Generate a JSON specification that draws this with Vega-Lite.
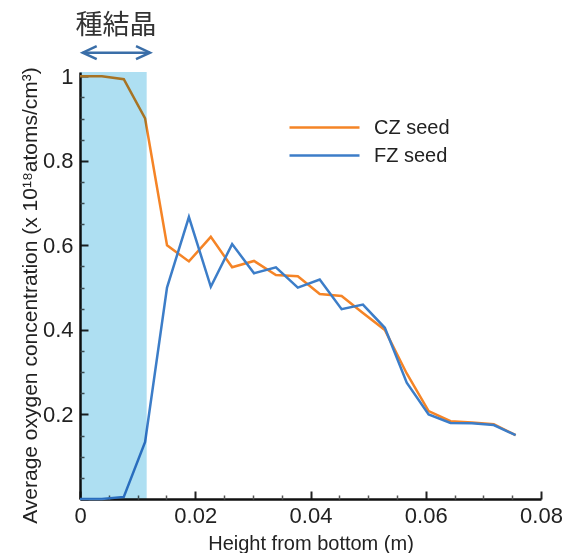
{
  "$schema": "https://vega.github.io/schema/vega-lite/v6.json",
  "width": 461,
  "height": 427,
  "autosize": {"type": "none"},
  "padding": {"left": 80, "top": 72, "right": 30, "bottom": 54},
  "background": "white",
  "config": {"view": {"stroke": null}, "font": "Liberation Sans"},
  "datasets": {
    "series": [
      {"h": 0, "c": 1.0, "seed": "CZ seed"},
      {"h": 0.0038, "c": 1.0, "seed": "CZ seed"},
      {"h": 0.0076, "c": 0.993, "seed": "CZ seed"},
      {"h": 0.0113, "c": 0.9, "seed": "CZ seed"},
      {"h": 0.0151, "c": 0.6, "seed": "CZ seed"},
      {"h": 0.0189, "c": 0.562, "seed": "CZ seed"},
      {"h": 0.0227, "c": 0.62, "seed": "CZ seed"},
      {"h": 0.0264, "c": 0.548, "seed": "CZ seed"},
      {"h": 0.0302, "c": 0.563, "seed": "CZ seed"},
      {"h": 0.034, "c": 0.53, "seed": "CZ seed"},
      {"h": 0.0378, "c": 0.527, "seed": "CZ seed"},
      {"h": 0.0416, "c": 0.485, "seed": "CZ seed"},
      {"h": 0.0454, "c": 0.48, "seed": "CZ seed"},
      {"h": 0.0491, "c": 0.44, "seed": "CZ seed"},
      {"h": 0.0529, "c": 0.4, "seed": "CZ seed"},
      {"h": 0.0567, "c": 0.297, "seed": "CZ seed"},
      {"h": 0.0605, "c": 0.208, "seed": "CZ seed"},
      {"h": 0.0643, "c": 0.184, "seed": "CZ seed"},
      {"h": 0.068, "c": 0.181, "seed": "CZ seed"},
      {"h": 0.0718, "c": 0.177, "seed": "CZ seed"},
      {"h": 0.0756, "c": 0.151, "seed": "CZ seed"},
      {"h": 0, "c": 0.0, "seed": "FZ seed"},
      {"h": 0.0038, "c": 0.0, "seed": "FZ seed"},
      {"h": 0.0076, "c": 0.005, "seed": "FZ seed"},
      {"h": 0.0113, "c": 0.135, "seed": "FZ seed"},
      {"h": 0.0151, "c": 0.5, "seed": "FZ seed"},
      {"h": 0.0189, "c": 0.667, "seed": "FZ seed"},
      {"h": 0.0227, "c": 0.502, "seed": "FZ seed"},
      {"h": 0.0264, "c": 0.603, "seed": "FZ seed"},
      {"h": 0.0302, "c": 0.534, "seed": "FZ seed"},
      {"h": 0.034, "c": 0.548, "seed": "FZ seed"},
      {"h": 0.0378, "c": 0.5, "seed": "FZ seed"},
      {"h": 0.0416, "c": 0.519, "seed": "FZ seed"},
      {"h": 0.0454, "c": 0.449, "seed": "FZ seed"},
      {"h": 0.0491, "c": 0.46, "seed": "FZ seed"},
      {"h": 0.0529, "c": 0.405, "seed": "FZ seed"},
      {"h": 0.0567, "c": 0.275, "seed": "FZ seed"},
      {"h": 0.0605, "c": 0.2, "seed": "FZ seed"},
      {"h": 0.0643, "c": 0.18, "seed": "FZ seed"},
      {"h": 0.068, "c": 0.179, "seed": "FZ seed"},
      {"h": 0.0718, "c": 0.175, "seed": "FZ seed"},
      {"h": 0.0756, "c": 0.151, "seed": "FZ seed"}
    ],
    "shade": [{"x0": 0, "x1": 0.01157, "y0": 0, "y1": 1.01}],
    "arrow": [{"xa": 0.00047, "xb": 0.01215, "ya": 1.0557}],
    "heads": [{"xa": 0.00047, "ya": 1.0557, "ang": 0}, {"xa": 0.01215, "ya": 1.0557, "ang": 180}],
    "label": [{"xa": 0.00625, "ya": 1.119, "t": "種結晶"}]
  },
  "layer": [
    {
      "data": {"name": "series"},
      "mark": {"type": "line", "strokeWidth": 2.5, "clip": false},
      "encoding": {
        "x": {
          "field": "h", "type": "quantitative",
          "scale": {"domain": [0, 0.08], "nice": false, "zero": false},
          "axis": {
            "orient": "bottom", "values": [0, 0.02, 0.04, 0.06, 0.08],
            "labelExpr": "'' + datum.value", "tickSize": -8, "tickWidth": 2, "tickColor": "#222",
            "domainColor": "#111", "domainWidth": 2.5, "labelFontSize": 22, "labelPadding": 14,
            "labelColor": "#222", "labelFlush": false, "labelOverlap": false, "labelBound": false,
            "title": "Height from bottom (m)", "titleFontSize": 20, "titleFontWeight": "normal",
            "titleColor": "#222", "titlePadding": 7, "grid": false
          }
        },
        "y": {
          "field": "c", "type": "quantitative",
          "scale": {"domain": [0, 1.01], "nice": false, "zero": false},
          "axis": {
            "orient": "left", "values": [0, 0.2, 0.4, 0.6, 0.8, 1],
            "labelExpr": "datum.value == 0 ? '' : '' + datum.value", "tickSize": -8, "tickWidth": 2, "tickColor": "#222",
            "domainColor": "#111", "domainWidth": 2.5, "labelFontSize": 22, "labelPadding": 15,
            "labelColor": "#222", "labelFlush": false, "labelOverlap": false, "labelBound": false,
            "title": "Average oxygen concentration (x 10¹⁸atoms/cm³)", "titleFontSize": 21, "titleFontWeight": "normal",
            "titleColor": "#222", "titlePadding": 2, "titleY": 223, "grid": false
          }
        },
        "color": {
          "field": "seed", "type": "nominal",
          "scale": {"domain": ["CZ seed", "FZ seed"], "range": ["#F58426", "#3C7DC8"]},
          "legend": {
            "title": null, "orient": "none", "legendX": 233, "legendY": 44,
            "symbolType": "M-3.5,0H3.5", "symbolSize": 400, "symbolStrokeWidth": 2.5,
            "labelFontSize": 20, "labelOffset": 38, "rowPadding": 6, "labelColor": "#222", "padding": 0
          }
        }
      }
    },
    {
      "data": {"name": "shade"},
      "mark": {"type": "rect", "color": "#AEDFF2", "blend": "multiply", "clip": false},
      "encoding": {
        "x": {
          "field": "x0", "type": "quantitative",
          "scale": {"domain": [0, 0.08], "nice": false, "zero": false},
          "axis": {
            "orient": "bottom",
            "values": [0.005, 0.01, 0.015, 0.025, 0.03, 0.035, 0.045, 0.05, 0.055, 0.065, 0.07, 0.075],
            "labels": false, "domain": false, "tickSize": -4, "tickColor": "#555", "tickWidth": 1.5,
            "title": null, "grid": false
          }
        },
        "x2": {"field": "x1"},
        "y": {
          "field": "y0", "type": "quantitative",
          "scale": {"domain": [0, 1.01], "nice": false, "zero": false},
          "axis": {
            "orient": "left",
            "values": [0.05, 0.1, 0.15, 0.25, 0.3, 0.35, 0.45, 0.5, 0.55, 0.65, 0.7, 0.75, 0.85, 0.9, 0.95],
            "labels": false, "domain": false, "tickSize": -4, "tickColor": "#555", "tickWidth": 1.5,
            "title": null, "grid": false
          }
        },
        "y2": {"field": "y1"}
      }
    },
    {
      "data": {"name": "arrow"},
      "mark": {"type": "rule", "color": "#3A6EA8", "strokeWidth": 2.5, "clip": false},
      "encoding": {
        "x": {"field": "xa", "type": "quantitative", "scale": {"domain": [0, 0.08], "nice": false, "zero": false}, "axis": null},
        "x2": {"field": "xb"},
        "y": {"field": "ya", "type": "quantitative", "scale": {"domain": [0, 1.01], "nice": false, "zero": false}, "axis": null}
      }
    },
    {
      "data": {"name": "heads"},
      "mark": {"type": "point", "shape": "M2.8,-1.3L0,0L2.8,1.3", "size": 100, "filled": false, "color": "#3A6EA8", "strokeWidth": 2.5, "opacity": 1, "clip": false},
      "encoding": {
        "x": {"field": "xa", "type": "quantitative", "scale": {"domain": [0, 0.08], "nice": false, "zero": false}, "axis": null},
        "y": {"field": "ya", "type": "quantitative", "scale": {"domain": [0, 1.01], "nice": false, "zero": false}, "axis": null},
        "angle": {"field": "ang", "type": "quantitative", "scale": null}
      }
    },
    {
      "data": {"name": "label"},
      "mark": {"type": "text", "font": "Noto Sans CJK JP", "fontSize": 27, "color": "#333", "baseline": "middle", "align": "center", "clip": false},
      "encoding": {
        "x": {"field": "xa", "type": "quantitative", "scale": {"domain": [0, 0.08], "nice": false, "zero": false}, "axis": null},
        "y": {"field": "ya", "type": "quantitative", "scale": {"domain": [0, 1.01], "nice": false, "zero": false}, "axis": null},
        "text": {"field": "t"}
      }
    }
  ],
  "resolve": {"axis": {"x": "independent", "y": "independent"}}
}
